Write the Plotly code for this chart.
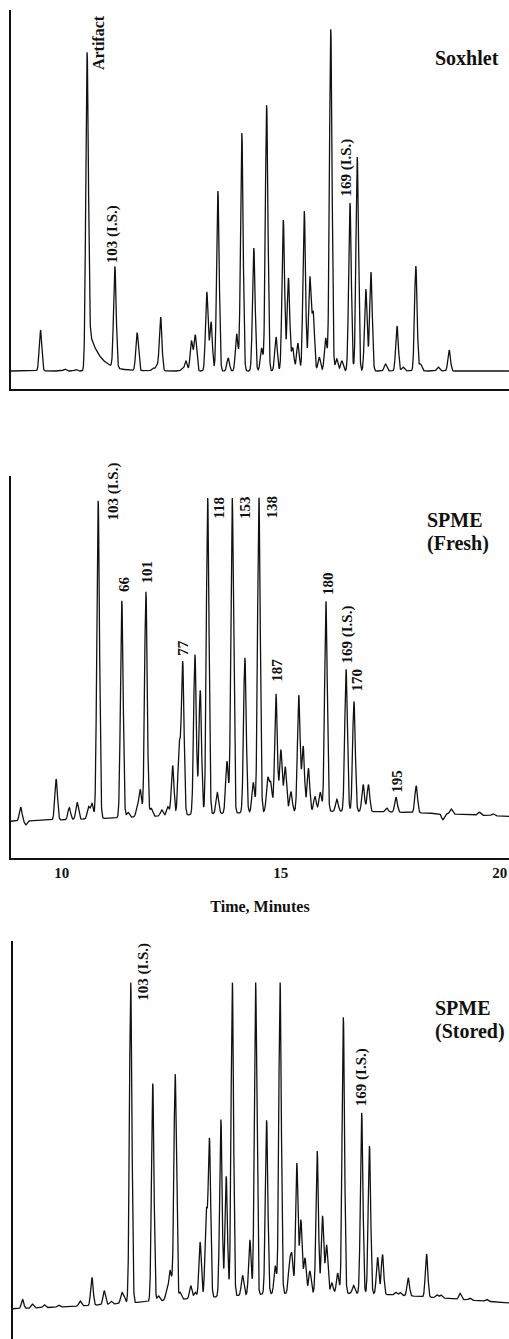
import numpy as np
import plotly.graph_objects as go

# ---------------- Soxhlet extract (top panel) ----------------
# retention time (min) and peak height (detector response, arbitrary units)
sox_rt = [9.09, 9.66, 9.92, 10.18, 10.83, 11.35, 11.72, 11.81, 11.90, 12.40, 12.49, 12.62,
          12.71, 12.98, 13.08, 13.24, 13.48, 13.68, 13.80, 14.08, 14.26, 14.38, 14.60, 14.77,
          14.89, 14.99, 15.11, 15.26, 15.39, 15.47, 15.61, 15.76, 15.88, 16.02, 16.14, 16.33,
          16.50, 16.70, 16.82, 17.16, 17.43, 17.57, 17.87, 17.98, 18.39, 18.65]
sox_h = [41, 2, 1.5, 319, 101, 38, 3, 5, 54, 2, 10, 30,
         36, 79, 49, 180, 13, 37, 238, 123, 23, 266, 34, 151,
         93, 23, 28, 160, 93, 57, 14, 33, 342, 12, 10, 168,
         214, 82, 99, 7, 45, 4, 105, 7, 4, 21]
# solvent artifact tailing
sox_tail_rt = 10.18
sox_tail_amp = 49
sox_tail_tau = 0.25

# ---------------- SPME, fresh sample (middle panel) ----------------
fresh_rt = [9.06, 9.18, 9.87, 10.17, 10.35, 10.61, 10.69, 10.83, 11.37, 11.51, 11.72, 11.79,
            11.92, 12.04, 12.28, 12.42, 12.53, 12.68, 12.76, 13.04, 13.16, 13.33, 13.55, 13.77,
            13.89, 14.18, 14.37, 14.50, 14.70, 14.77, 14.89, 15.00, 15.10, 15.23, 15.41, 15.51,
            15.63, 15.78, 15.90, 16.03, 16.28, 16.49, 16.67, 16.88, 17.00, 17.42, 17.63, 18.09,
            18.70, 18.89, 19.53, 19.84]
fresh_h = [14, -4, 41, 12, 17, 12, 15, 318, 217, 5, 8, 27,
           225, 8, 6, 9, 50, 70, 152, 160, 124, 317, 21, 52,
           317, 155, 30, 317, 33, 28, 118, 62, 45, 20, 116, 65,
           43, 15, 19, 210, 12, 142, 110, 27, 27, 4, 15, 27,
           -6, 5, 3, 2]
fresh_base = 35
fresh_hump = [16.12, 12, 3.88]      # centre (min), amplitude, width (min)
fresh_fullscale = 360.3

# ---------------- SPME, stored sample (bottom panel) ----------------
stored_rt = [8.18, 8.42, 8.71, 9.06, 9.59, 9.88, 10.18, 10.35, 10.61, 10.67, 10.83, 11.37,
             11.51, 11.71, 11.79, 11.85, 11.92, 12.04, 12.30, 12.41, 12.53, 12.68, 12.76, 13.04,
             13.17, 13.32, 13.57, 13.75, 13.89, 14.16, 14.37, 14.49, 14.72, 14.78, 14.90, 15.00,
             15.10, 15.22, 15.40, 15.53, 15.63, 15.76, 15.90, 16.04, 16.29, 16.49, 16.68, 16.88,
             17.00, 17.32, 17.43, 17.63, 18.08, 18.33, 18.43, 18.90, 19.14, 19.55]
stored_h = [9, 4, 3, 2, 5, 28, 14, 3, 10, 6, 322, 218,
            5, 8, 28, 12, 225, 7, 13, 6, 56, 85, 157, 177,
            120, 316, 20, 55, 315, 174, 28, 313, 28, 36, 130, 73,
            35, 22, 142, 77, 48, 10, 20, 276, 8, 181, 148, 37,
            40, 3, 3, 18, 43, 3, 3, 6, 2, 2]
stored_base = 28
stored_hump = [15.47, 18, 3.68]
stored_fullscale = 356.5

peak_sigma = 0.03

# axis ranges (minutes) for each panel
sox_xrange = [8.40, 20.05]
fresh_xrange = [8.84, 20.21]
stored_xrange = [7.946, 20.10]

fresh_ticks = [10, 15, 20]
fresh_ticktext = ["10", "15", "20"]


def trace_of(t, rts, hs, sigma, base=0.0, hump=None):
    y = np.full_like(t, float(base))
    for r, h in zip(rts, hs):
        y += h * np.exp(-0.5 * ((t - r) / sigma) ** 2)
    if hump is not None:
        c, a, w = hump
        y += a * np.exp(-0.5 * ((t - c) / w) ** 2)
    return y


t1 = np.arange(sox_xrange[0], sox_xrange[1], 0.003)
y1 = trace_of(t1, sox_rt, sox_h, peak_sigma)
dt = t1 - sox_tail_rt
tail = np.where(dt > 0, sox_tail_amp * np.exp(-np.clip(dt, 0, None) / sox_tail_tau)
                * (1 - np.exp(-(np.clip(dt, 0, None) / 0.05) ** 2)), 0)
y1 = y1 + tail

t2 = np.arange(fresh_xrange[0], fresh_xrange[1], 0.003)
y2 = np.minimum(trace_of(t2, fresh_rt, fresh_h, peak_sigma, fresh_base, fresh_hump), fresh_fullscale)

t3 = np.arange(stored_xrange[0], stored_xrange[1], 0.003)
y3 = np.minimum(trace_of(t3, stored_rt, stored_h, peak_sigma, stored_base, stored_hump), stored_fullscale)

W, H = 509, 1339
LINE = dict(color="#111111", width=1.3)
FONT = "Liberation Serif"

fig = go.Figure()
fig.add_trace(go.Scatter(x=t1, y=y1, mode="lines", line=LINE, xaxis="x", yaxis="y", hoverinfo="skip"))
fig.add_trace(go.Scatter(x=t2, y=y2, mode="lines", line=LINE, xaxis="x2", yaxis="y2", hoverinfo="skip"))
fig.add_trace(go.Scatter(x=t3, y=y3, mode="lines", line=LINE, xaxis="x3", yaxis="y3", hoverinfo="skip"))


def yd(py_bottom, py_top):
    return [max(0.0, 1 - py_bottom / H), 1 - py_top / H]


axis_common = dict(showgrid=False, zeroline=False, ticks="", linecolor="#111111", linewidth=2)

fig.update_layout(
    width=W, height=H, margin=dict(l=0, r=0, t=0, b=0),
    paper_bgcolor="white", plot_bgcolor="white", showlegend=False,
    xaxis=dict(domain=[11 / W, 1], range=sox_xrange, showline=True, showticklabels=False,
               anchor="y", **axis_common),
    yaxis=dict(domain=yd(389, 10), range=[-18, 361], showline=True, showticklabels=False,
               anchor="x", **axis_common),
    xaxis2=dict(domain=[11 / W, 1], range=fresh_xrange, showline=True, anchor="y2",
                tickvals=fresh_ticks, ticktext=fresh_ticktext,
                tickfont=dict(family=FONT, size=15, color="#111111", weight="bold"),
                title=dict(text="<b>Time, Minutes</b>", font=dict(family=FONT, size=16, color="#111111"),
                           standoff=21),
                **axis_common),
    yaxis2=dict(domain=yd(858.3, 476), range=[0, 382.3], showline=True, showticklabels=False,
                anchor="x2", **axis_common),
    xaxis3=dict(domain=[13 / W, 1], range=stored_xrange, showline=False, showticklabels=False,
                anchor="y3", **axis_common),
    yaxis3=dict(domain=yd(1339, 940.7), range=[0, 398.3], showline=True, showticklabels=False,
                anchor="x3", **axis_common),
)

ann = []


def vlabel(text, x, y, xr, yr, size=15):
    ann.append(dict(text="<b>%s</b>" % text, x=x, y=y, xref=xr, yref=yr, textangle=-90,
                    showarrow=False, xanchor="center", yanchor="middle",
                    font=dict(family=FONT, size=size, color="#111111")))


def hlabel(text, x, y, xr, yr, size=20):
    ann.append(dict(text="<b>%s</b>" % text, x=x, y=y, xref=xr, yref=yr,
                    showarrow=False, xanchor="left", yanchor="middle",
                    font=dict(family=FONT, size=size, color="#111111")))


# top panel labels
vlabel("Artifact", 10.46, 328, "x", "y", 16)
vlabel("103 (I.S.)", 10.79, 137, "x", "y")
vlabel("169 (I.S.)", 16.25, 203, "x", "y")
hlabel("Soxhlet", 18.27, 313, "x", "y")

# middle panel labels
for txt, x, y in [("103 (I.S.)", 11.18, 367.3), ("66", 11.42, 274.3), ("101", 11.94, 286.6),
                  ("77", 12.76, 210.3), ("118", 13.57, 350.8), ("153", 14.18, 351.3),
                  ("138", 14.79, 351.3), ("187", 14.91, 188.3), ("180", 16.08, 274.3),
                  ("169 (I.S.)", 16.50, 223.3), ("170", 16.75, 178.3), ("195", 17.65, 77.3)]:
    vlabel(txt, x, y, "x2", "y2")
hlabel("SPME", 18.29, 338.3, "x2", "y2")
hlabel("(Fresh)", 18.29, 315.3, "x2", "y2")

# bottom panel labels
vlabel("103 (I.S.)", 11.16, 367.3, "x3", "y3")
vlabel("169 (I.S.)", 16.49, 261.5, "x3", "y3")
hlabel("SPME", 18.24, 331, "x3", "y3")
hlabel("(Stored)", 18.24, 307.3, "x3", "y3")

fig.update_layout(annotations=ann)
fig.write_html(
    "out.html",
    config={"displayModeBar": False},
    post_script="document.body.style.margin='0';document.body.style.padding='0';"
                "document.documentElement.style.overflow='hidden';",
)
